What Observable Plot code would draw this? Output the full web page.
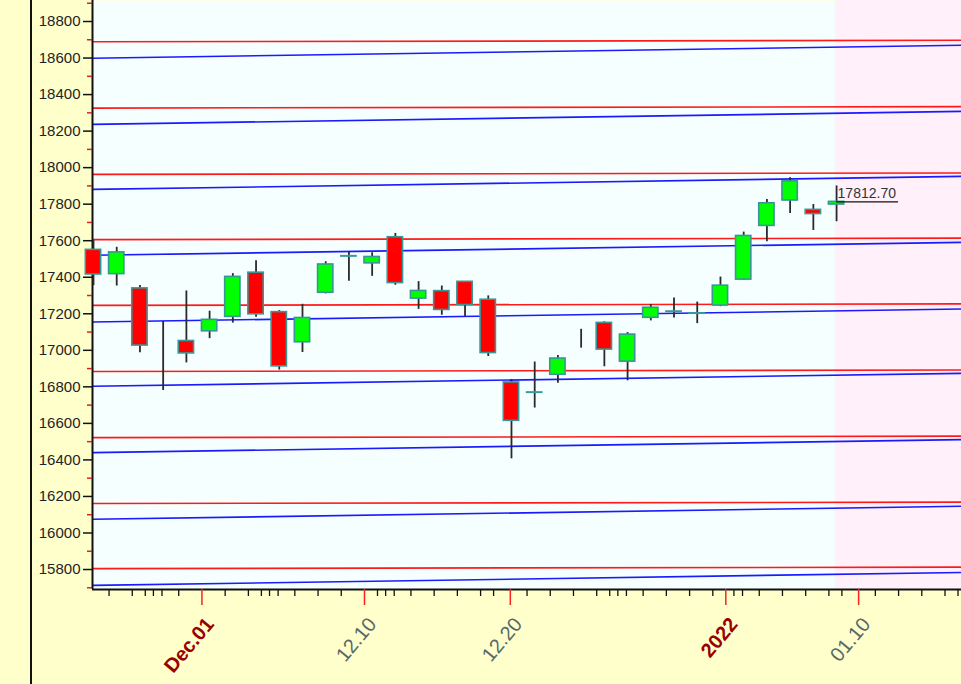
<!DOCTYPE html>
<html><head><meta charset="utf-8">
<script src="https://cdn.jsdelivr.net/npm/d3@7"></script>
<script src="https://cdn.jsdelivr.net/npm/@observablehq/plot@0.6"></script>
<style>
html,body{margin:0;padding:0;}
body{width:961px;height:684px;overflow:hidden;background:#ffffcc linear-gradient(to right, transparent 30px, #111 30px, #111 32px, transparent 32px);}
#chart svg{display:block;}
</style></head><body><div id="chart"></div>
<script>
// ---- data ----
const dates = ["2021-11-24","2021-11-25","2021-11-26","2021-11-29","2021-11-30","2021-12-01","2021-12-02","2021-12-03","2021-12-06","2021-12-07","2021-12-08","2021-12-09","2021-12-10","2021-12-13","2021-12-14","2021-12-15","2021-12-16","2021-12-17","2021-12-20","2021-12-21","2021-12-22","2021-12-23","2021-12-24","2021-12-27","2021-12-28","2021-12-29","2021-12-30","2021-12-31","2022-01-03","2022-01-04","2022-01-05","2022-01-06","2022-01-07"];
const opens  = [17550,17417,17339,null,17051,17104,17183,17425,17209,17044,17315,17524,17476,17619,17283,17324,17375,17277,16824,16773,16866,null,17150,16938,17178,17220,17201,17245,17387,17681,17820,17769,17798];
const highs  = [17601,17564,17355,17158,17325,17214,17420,17490,17217,17252,17485,17540,17534,17640,17376,17352,17377,17298,16840,16936,16971,17115,17156,17097,17250,17286,17264,17401,17647,17826,17945,17798,17900];
const lows   = [17354,17352,16986,16780,16931,17064,17149,17181,16892,16988,17309,17378,17405,17356,17224,17192,17185,16966,16406,16684,16820,17012,16910,16833,17161,17177,17146,17239,17383,17594,17749,17656,17704];
const closes = [17415,17536,17026,null,16983,17167,17402,17197,16912,17177,17470,17517,17511,17368,17325,17221,17248,16985,16614,16771,16955,null,17004,17086,17233,17214,17204,17354,17626,17805,17925,17746,17812.70];

// channel lines: value at left edge and at right edge
const redStart  = [18689,18326,17963,17606,17246,16884,16522,16161,15805];
const redEnd    = [18697,18334,17971,17614,17254,16892,16530,16169,15813];
const blueStart = [18599,18237,17881,17520,17155,16803,16440,16075,15713];
const blueEnd   = [18670,18308,17952,17591,17226,16874,16511,16146,15784];

const yMajorTicks = [15800,16000,16200,16400,16600,16800,17000,17200,17400,17600,17800,18000,18200,18400,18600,18800];
const yMinorTicks = [15700,15900,16100,16300,16500,16700,16900,17100,17300,17500,17700,17900,18100,18300,18500,18700,18900];

const xMajorTickDates  = ["2021-12-01","2021-12-10","2021-12-20","2022-01-01","2022-01-10"];
const xMajorTickLabels = ["Dec.01","12.10","12.20","2022","01.10"];
const xMajorTickStrong = [true,false,false,true,false];
const xMinorSkipped    = ["2021-12-19","2022-01-09"];
const xMinorFirst = "2021-11-25", xMinorLast = "2022-01-15";

// ---- calendar → trading-slot position ----
const t0 = new Date(dates[0] + "T00:00:00Z");
function weekdaysBefore(d) {
  let n = 0;
  for (let t = new Date(t0); t < d; t = d3.utcDay.offset(t, 1)) {
    const w = t.getUTCDay(); if (w !== 0 && w !== 6) n++;
  }
  return n;
}
function calPos(s) {
  const d = new Date(s + "T00:00:00Z");
  const w = d.getUTCDay(), n = weekdaysBefore(d);
  if (w === 6) return n - 1 + 0.23;
  if (w === 0) return n - 1 + 0.58;
  return w === 1 ? n - 0.05 : n - 0.33;
}
const fmt = d3.utcFormat("%Y-%m-%d");
const minorTickPos = d3.utcDay.range(new Date(xMinorFirst + "T00:00:00Z"), d3.utcDay.offset(new Date(xMinorLast + "T00:00:00Z"), 1))
  .map(fmt)
  .filter(s => !xMajorTickDates.includes(s) && !xMinorSkipped.includes(s))
  .map(calPos);
const majorTicks = xMajorTickDates.map((s, k) => ({pos: calPos(s), label: xMajorTickLabels[k], strong: xMajorTickStrong[k]}));

const candles = dates.map((d, i) => ({i, date: d, open: opens[i], high: highs[i], low: lows[i], close: closes[i]}));
const withBody = candles.filter(c => c.open != null && c.close != null);
const rects = withBody.filter(c => Math.abs(c.close - c.open) >= 10);
const dojis = withBody.filter(c => Math.abs(c.close - c.open) < 10);
const last = candles[candles.length - 1];

const xDomain = [-0.043, 37.38];
const yDomain = [15690.6, 18915];
const lines = [
  ...redStart.map((v, k) => ({a: v, b: redEnd[k], c: "#ff1a1a"})),
  ...blueStart.map((v, k) => ({a: v, b: blueEnd[k], c: "#1a1aff"}))
];
const halfBody = 0.33, halfDoji = 0.36;
const labelOpts = {x: "pos", text: "label", frameAnchor: "bottom", dx: 2, dy: 26, rotate: -50, textAnchor: "end", lineAnchor: "top", fontSize: 20};

const chart = Plot.plot({
  width: 961, height: 684,
  marginLeft: 92, marginRight: 0, marginTop: 0, marginBottom: 95,
  x: {type: "linear", domain: xDomain, axis: null},
  y: {type: "linear", domain: yDomain, axis: null},
  style: {background: "none", fontFamily: "'Liberation Sans', Arial, sans-serif", overflow: "visible"},
  marks: [
    Plot.frame({fill: "#f5ffff", stroke: "none"}),
    Plot.rect([{x1: last.i - 0.05, x2: xDomain[1]}], {x1: "x1", x2: "x2", fill: "#fff0fa"}),
    Plot.link(lines, {x1: () => xDomain[0], x2: () => xDomain[1], y1: "a", y2: "b", stroke: d => d.c, strokeWidth: 1.6}),
    Plot.ruleX([xDomain[0]], {stroke: "#111", strokeWidth: 2}),
    Plot.ruleY([yDomain[0]], {stroke: "#111", strokeWidth: 2}),
    Plot.axisY(yMinorTicks, {tickSize: 5, stroke: "#e02020", strokeWidth: 1.5, tickFormat: () => ""}),
    Plot.axisY(yMajorTicks, {tickSize: 9, tickPadding: 3, stroke: "#111", strokeWidth: 1.5, fill: "#1e2424", fontSize: 15, tickFormat: d => String(d)}),
    Plot.axisX(minorTickPos, {anchor: "bottom", tickSize: 7, stroke: "#111", strokeWidth: 1.3, tickFormat: () => ""}),
    Plot.axisX(majorTicks.map(t => t.pos), {anchor: "bottom", tickSize: 16, stroke: "#ff2020", strokeWidth: 1.5, tickFormat: () => ""}),
    Plot.text(majorTicks.filter(t => t.strong), {...labelOpts, fontWeight: "bold", fill: "#990000"}),
    Plot.text(majorTicks.filter(t => !t.strong), {...labelOpts, fill: "#586868"}),
    Plot.ruleX(candles, {x: "i", y1: "low", y2: "high", stroke: "#2a2a2a", strokeWidth: 1.8}),
    Plot.rect(rects, {x1: d => d.i - halfBody, x2: d => d.i + halfBody, y1: "open", y2: "close",
      fill: d => d.close > d.open ? "#00ff00" : "#ff0000", stroke: "#3a9696", strokeWidth: 1.6}),
    Plot.ruleY(dojis, {y: "close", x1: d => d.i - halfDoji, x2: d => d.i + halfDoji, stroke: "#3a9a9a", strokeWidth: 2}),
    Plot.ruleY([last], {y: "close", x1: d => d.i, x2: d => d.i + 2.67, stroke: "#111", strokeWidth: 1.3}),
    Plot.text([last], {x: "i", y: "close", text: d => d.close.toFixed(2), textAnchor: "start", lineAnchor: "bottom", dx: 1, dy: -4, fontSize: 14, fill: "#333"})
  ]
});
document.getElementById("chart").appendChild(chart);
</script>
</body></html>
